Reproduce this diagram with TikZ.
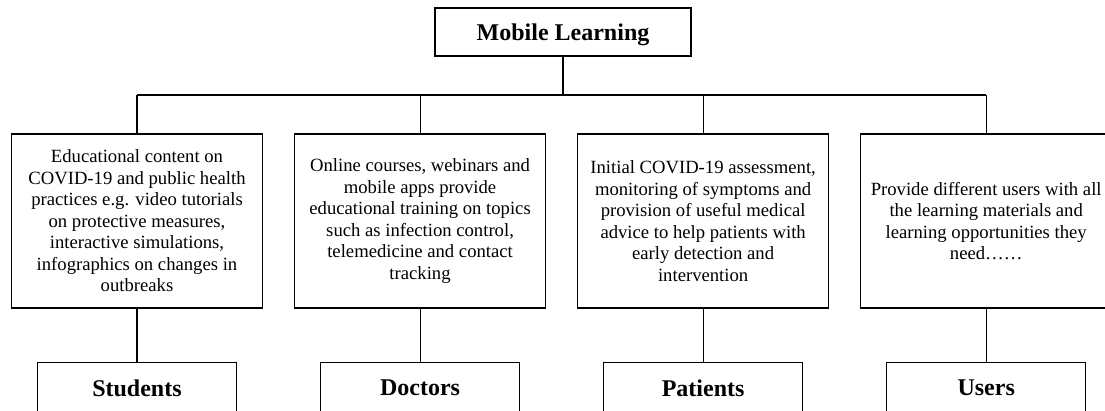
\documentclass[tikz,border=0pt]{standalone}
\usepackage{fontspec}
\setmainfont{Liberation Serif}
\usetikzlibrary{positioning}

\begin{document}
\begin{tikzpicture}[x=0.75pt, y=-0.75pt, line width=0.8pt, node distance=23.25pt,
	box/.style={draw, rectangle, inner sep=0pt, align=center, minimum width=188.25pt, minimum height=130.5pt, font=\fontsize{14}{16.1}\selectfont},
	role/.style={draw, rectangle, inner sep=0pt, text depth=0pt, minimum width=149.25pt, minimum height=38.25pt, font=\fontsize{18}{21}\selectfont\bfseries}]
	\useasboundingbox (0,0) rectangle (1105,410);

	\node[role, minimum width=192pt, minimum height=36pt] (ML) at (563,32) {Mobile Learning};
	\coordinate (J) at (563,95);

	\node[box] (D1) at (137,221) {Educational content on\\COVID-19 and public health\\practices e.g. video tutorials\\on protective measures,\\interactive simulations,\\infographics on changes in\\outbreaks};
	\node[box] (D2) [right=of D1] {Online courses, webinars and\\mobile apps provide\\educational training on topics\\such as infection control,\\telemedicine and contact\\tracking};
	\node[box] (D3) [right=of D2] {Initial COVID-19 assessment,\\monitoring of symptoms and\\provision of useful medical\\advice to help patients with\\early detection and\\intervention};
	\node[box] (D4) [right=of D3] {Provide different users with all\\the learning materials and\\learning opportunities they\\need……};

	\node[role] (R1) [below=40pt of D1] {Students};
	\node[role] (R2) [below=40pt of D2] {Doctors};
	\node[role] (R3) [below=40pt of D3] {Patients};
	\node[role] (R4) [below=40pt of D4] {Users};

	\draw (ML.south) -- (J);
	\draw (D1.north |- J) -- (D4.north |- J);
	\foreach \i in {1,...,4}
		\draw (D\i.north) -- (D\i.north |- J) (D\i.south) -- (R\i.north);
\end{tikzpicture}
\end{document}
